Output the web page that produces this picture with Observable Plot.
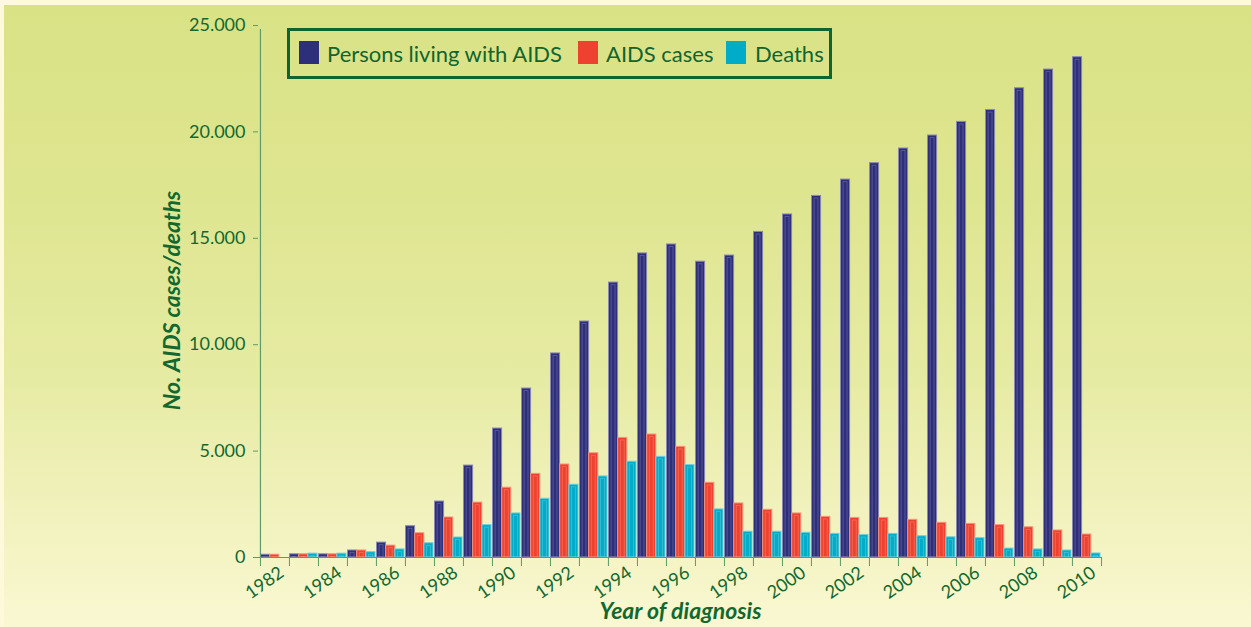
<!DOCTYPE html>
<html>
<head>
<meta charset="utf-8">
<script src="https://cdn.jsdelivr.net/npm/d3@7"></script>
<script src="https://cdn.jsdelivr.net/npm/@observablehq/plot@0.6"></script>
<style>
html, body { margin: 0; padding: 0; }
body { width: 1251px; height: 627px; overflow: hidden; background: #fdf9da; }
#wrap {
  position: relative; width: 1251px; height: 627px; box-sizing: border-box;
  border-top: 5px solid #fdf9da; border-left: 4px solid #fdf9da;
  background: linear-gradient(to bottom, #dae286 0%, #dee58f 30%, #e6eba3 60%, #f0f1bb 80%, #faf8d2 100%);
}
#chart { position: absolute; left: -4px; top: -5px; }
#chart svg { overflow: visible; }
#legend {
  position: absolute; left: 283px; top: 23px; width: 539px; height: 45px;
  border: 3px solid #10652f; font-family: Lato, sans-serif; font-size: 22px; color: #10652f;
}
#legend .sw { position: absolute; top: 10px; width: 20px; height: 23px; }
#legend .lb { position: absolute; top: 0; height: 45px; line-height: 45px; white-space: nowrap; }
</style>
</head>
<body>
<div id="wrap">
  <div id="chart"></div>
  <div id="legend"></div>
</div>
<script>
// ---- data ----
const years = [1982,1983,1984,1985,1986,1987,1988,1989,1990,1991,1992,1993,1994,1995,1996,1997,1998,1999,2000,2001,2002,2003,2004,2005,2006,2007,2008,2009,2010];
const living = [130,150,150,330,700,1470,2630,4320,6060,7940,9590,11090,12920,14290,14710,13900,14190,15300,16120,16990,17760,18530,19220,19830,20470,21030,22050,22930,23510];
const cases  = [130,150,150,330,560,1140,1880,2580,3280,3930,4370,4900,5620,5780,5200,3510,2540,2240,2070,1910,1860,1860,1770,1630,1580,1520,1420,1270,1080];
const deaths = [0,180,180,250,380,670,940,1520,2070,2760,3420,3810,4500,4730,4340,2260,1210,1210,1160,1110,1060,1110,1000,950,910,420,380,330,190];
const labelYears = [1982,1984,1986,1988,1990,1992,1994,1996,1998,2000,2002,2004,2006,2008,2010];
const yTicks = [0,5000,10000,15000,20000,25000];
const seriesNames = ["Persons living with AIDS", "AIDS cases", "Deaths"];
const seriesColors = ["#2e2f7a", "#ef4130", "#00acc8"];
const seriesEdges = ["#8a88b4", "#f7937c", "#6fcfdd"];

const table = years.map((year, i) => ({year, living: living[i], cases: cases[i], deaths: deaths[i]}));

const W = 1251, H = 627, mL = 258, mR = 149, mT = 25, mB = 70;
const bw = (W - mL - mR) / years.length;
const barW = 9.2;
const textGreen = "#12682f";
const axisGreen = "#5c9c68";
const fmt = d => d3.format(",")(d).replace(/,/g, ".");

function series(key, k) {
  const left = 0.5 + k * barW;
  const right = bw - left - barW;
  return [
    Plot.barY(table, {x: "year", y: key, fill: seriesColors[k], stroke: seriesEdges[k], strokeWidth: 1, insetLeft: left, insetRight: right}),
    Plot.barY(table, {x: "year", y: key, fill: "none", stroke: seriesEdges[k], strokeOpacity: 0.55, strokeWidth: 0.8, insetLeft: left + 2.6, insetRight: right + 2.6, insetTop: 2.6})
  ];
}

const chart = Plot.plot({
  width: W, height: H,
  marginLeft: mL, marginRight: mR, marginTop: mT, marginBottom: mB,
  style: {background: "transparent", fontFamily: "Lato, sans-serif"},
  x: {type: "band", domain: years, padding: 0, axis: null},
  y: {domain: [0, 25000], axis: null},
  marks: [
    ...series("living", 0),
    ...series("cases", 1),
    ...series("deaths", 2),
    Plot.ruleY([0], {stroke: axisGreen, strokeWidth: 1.2}),
    Plot.ruleX([years[0]], {y1: 0, y2: 25000, dx: -bw / 2, stroke: axisGreen, strokeWidth: 1.2, insetBottom: -4}),
    Plot.axisY(yTicks, {tickSize: 5, tickPadding: 8, fontSize: 18, fill: textGreen, stroke: axisGreen, tickFormat: fmt, label: null}),
    Plot.axisX(years, {tickSize: 9, tickFormat: () => "", dx: -bw / 2, stroke: axisGreen, label: null}),
    Plot.axisX([years[years.length - 1]], {tickSize: 9, tickFormat: () => "", dx: bw / 2, stroke: axisGreen, label: null}),
    Plot.text(labelYears, {x: d => d, text: d => String(d), frameAnchor: "bottom", rotate: -35, textAnchor: "end", dx: 10, dy: 18, fontSize: 18, fill: textGreen}),
    Plot.text(["No. AIDS cases/deaths"], {text: d => d, frameAnchor: "left", textAnchor: "middle", lineAnchor: "middle", rotate: -90, dx: -86, dy: 9, fontSize: 23, fontWeight: "bold", fontStyle: "italic", fill: textGreen}),
    Plot.text(["Year of diagnosis"], {text: d => d, frameAnchor: "bottom", lineAnchor: "middle", textAnchor: "middle", dy: 54, fontSize: 23, fontWeight: "bold", fontStyle: "italic", fill: textGreen})
  ]
});
document.getElementById("chart").appendChild(chart);

// legend
const legend = document.getElementById("legend");
const swX = [9, 288, 436];
const lbX = [37, 316, 465];
seriesNames.forEach((name, k) => {
  const sw = document.createElement("div");
  sw.className = "sw"; sw.style.left = swX[k] + "px"; sw.style.background = seriesColors[k];
  const lb = document.createElement("div");
  lb.className = "lb"; lb.style.left = lbX[k] + "px"; lb.textContent = name;
  legend.appendChild(sw); legend.appendChild(lb);
});
</script>
</body>
</html>
